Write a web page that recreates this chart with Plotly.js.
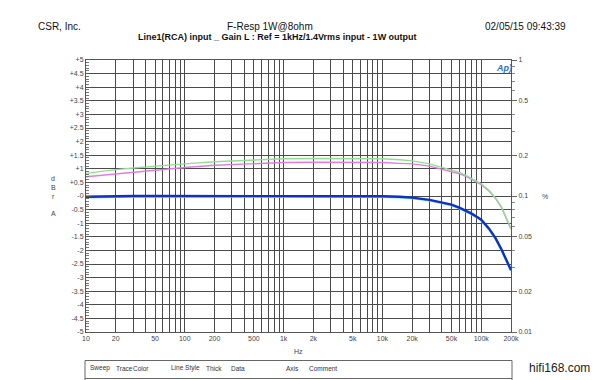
<!DOCTYPE html>
<html>
<head>
<meta charset="utf-8">
<script src="https://cdn.plot.ly/plotly-3.0.1.min.js"></script>
<style>html,body{margin:0;padding:0;background:#fff;}#chart{width:598px;height:380px;}</style>
</head>
<body>
<div id="chart"></div>
<script>
// Frequencies (Hz)
const freqs = [10, 15, 20, 30, 50, 100, 200, 500, 1000, 2000, 5000, 10000, 15000, 20000, 30000, 40000, 50000, 60000, 70000, 80000, 90000, 100000, 120000, 140000, 160000, 180000, 200000];
// Blue trace (dBrA)
const blueDb = [-0.03, -0.01, 0.0, 0.0, 0.0, 0.0, 0.0, 0.0, 0.0, 0.0, 0.0, -0.01, -0.03, -0.06, -0.14, -0.24, -0.32, -0.43, -0.54, -0.65, -0.76, -0.87, -1.2, -1.56, -1.96, -2.34, -2.72];
// Cyan trace (dBrA)
const cyanDb = [-0.05, -0.03, -0.02, -0.02, -0.02, -0.02, -0.02, -0.02, -0.02, -0.02, -0.02, -0.03, -0.05, -0.08, -0.16, -0.26, -0.34, -0.45, -0.56, -0.67, -0.78, -0.9, -1.23, -1.59, -1.99, -2.37, -2.75];
// Green trace
const greenDb = [0.83, 0.92, 0.97, 1.03, 1.10, 1.18, 1.26, 1.33, 1.37, 1.38, 1.38, 1.37, 1.33, 1.29, 1.18, 1.06, 0.97, 0.87, 0.76, 0.65, 0.55, 0.45, 0.2, -0.08, -0.4, -0.8, -1.19];
// Magenta trace
const magentaDb = [0.71, 0.77, 0.82, 0.88, 0.95, 1.05, 1.13, 1.20, 1.23, 1.24, 1.24, 1.23, 1.20, 1.18, 1.10, 0.99, 0.91, 0.82, 0.72, 0.61, 0.51, 0.42, 0.18, -0.1, -0.42, -0.82, -1.21];

// Axis ticks
const xGridVals = [];
for (let d = 10; d <= 100000; d *= 10) for (let m = 1; m <= 9; m++) xGridVals.push(m * d);
xGridVals.push(200000);
const xLabelMap = {10:'10',20:'20',50:'50',100:'100',200:'200',500:'500',1000:'1k',2000:'2k',5000:'5k',10000:'10k',20000:'20k',50000:'50k',100000:'100k',200000:'200k'};
const xTickText = xGridVals.map(v => xLabelMap[v] || '');
const yTickVals = [5,4.5,4,3.5,3,2.5,2,1.5,1,0.5,0,-0.5,-1,-1.5,-2,-2.5,-3,-3.5,-4,-4.5,-5];
const yTickText = ['+5','+4.5','+4','+3.5','+3','+2.5','+2','+1.5','+1','+0.5','-0','-0.5','-1','-1.5','-2','-2.5','-3','-3.5','-4','-4.5','-5'];
const y2TickVals = [0.01, 0.02, 0.05, 0.1, 0.2, 0.5, 1];
const y2TickText = ['0.01','0.02','0.05','0.1','0.2','0.5','1'];
const y2MinorVals = [0.03,0.04,0.06,0.07,0.08,0.09,0.3,0.4,0.6,0.7,0.8,0.9];
const legendHeaders = ['Sweep','Trace','Color','Line Style','Thick','Data','Axis','Comment'];
const legendHeaderX = [88, 114, 131, 169, 204, 229, 284, 307];

const L = 86, R = 511, T = 60, B = 332;
const px = x => (x - L) / (R - L);
const py = y => (B - y) / (B - T);

const traces = [
  {x: freqs, y: magentaDb, mode: 'lines', line: {color: '#e07be0', width: 1.4}, hoverinfo: 'skip'},
  {x: freqs, y: greenDb, mode: 'lines', line: {color: '#8fe08f', width: 1.4}, hoverinfo: 'skip'},
  {x: freqs, y: cyanDb, mode: 'lines', line: {color: '#6fdcff', width: 2.2}, hoverinfo: 'skip'},
  {x: freqs, y: blueDb, mode: 'lines', line: {color: '#1030c0', width: 2.4}, hoverinfo: 'skip'},
  {x: [], y: [], yaxis: 'y2', mode: 'lines', hoverinfo: 'skip'}
];

const tickFont = {family: 'Liberation Sans, Arial, sans-serif', size: 7, color: '#444'};
const annFont = {family: 'Liberation Sans, Arial, sans-serif', size: 10, color: '#111'};

const annotations = [
  {text: 'CSR, Inc.', x: px(36), y: py(26), xanchor: 'left'},
  {text: 'F-Resp 1W@8ohm', x: px(270), y: py(26), xanchor: 'center'},
  {text: '<b>Line1(RCA) input _ Gain L : Ref = 1kHz/1.4Vrms input - 1W output</b>', x: px(277), y: py(37), xanchor: 'center', font: {family: 'Liberation Sans, Arial, sans-serif', size: 9, color: '#111'}},
  {text: '02/05/15 09:43:39', x: px(568), y: py(26), xanchor: 'right'},
  {text: 'd', x: px(53), y: py(178), xanchor: 'center', font: tickFont},
  {text: 'B', x: px(53), y: py(187), xanchor: 'center', font: tickFont},
  {text: 'r', x: px(53), y: py(196), xanchor: 'center', font: tickFont},
  {text: 'A', x: px(53), y: py(213), xanchor: 'center', font: tickFont},
  {text: '%', x: px(545), y: py(196), xanchor: 'center', font: tickFont},
  {text: 'Hz', x: px(298), y: py(351), xanchor: 'center', font: tickFont},
  {text: '<i><b>Ap)</b></i>', x: px(504), y: py(68), xanchor: 'center', font: {family: 'Liberation Sans, Arial, sans-serif', size: 9, color: '#2f6fc0'}},
  {text: 'hifi168.com', x: px(527), y: py(368), xanchor: 'left', font: {family: 'Liberation Sans, Arial, sans-serif', size: 12, color: '#222'}}
].map(a => Object.assign({xref: 'paper', yref: 'paper', showarrow: false, yanchor: 'middle', font: annFont}, a));

legendHeaders.forEach((h, i) => {
  annotations.push({text: h, xref: 'paper', yref: 'paper', x: px(legendHeaderX[i]), y: py(368), xanchor: 'left', yanchor: 'middle', showarrow: false, font: {family: 'Liberation Sans, Arial, sans-serif', size: 6.5, color: '#333'}});
});

const shapes = [
  {type: 'line', xref: 'paper', yref: 'paper', x0: px(85), x1: px(512), y0: py(360.5), y1: py(360.5), line: {color: '#666', width: 1}},
  {type: 'line', xref: 'paper', yref: 'paper', x0: px(85), x1: px(85), y0: py(360.5), y1: py(385), line: {color: '#666', width: 1}},
  {type: 'line', xref: 'paper', yref: 'paper', x0: px(512), x1: px(512), y0: py(360.5), y1: py(385), line: {color: '#666', width: 1}},
  {type: 'line', xref: 'paper', yref: 'paper', x0: px(85), x1: px(512), y0: py(378.5), y1: py(378.5), line: {color: '#666', width: 1}}
];

const layout = {
  width: 598, height: 380,
  margin: {l: L, r: 598 - R, t: T, b: 380 - B, pad: 0},
  paper_bgcolor: '#fff', plot_bgcolor: '#fff',
  showlegend: false,
  xaxis: {
    type: 'log', range: [1, Math.log10(200000)],
    tickmode: 'array', tickvals: xGridVals, ticktext: xTickText,
    showgrid: true, gridcolor: '#4a4a4a', gridwidth: 1,
    ticks: '', tickfont: tickFont, tickangle: 0,
    showline: true, linecolor: '#555', linewidth: 1, mirror: true,
    zeroline: false, fixedrange: true
  },
  yaxis: {
    range: [-5, 5], tickmode: 'array', tickvals: yTickVals, ticktext: yTickText,
    showgrid: true, gridcolor: '#4a4a4a', gridwidth: 1,
    ticks: 'inside', ticklen: 5, tickcolor: '#555', tickfont: tickFont,
    minor: {dtick: 0.1, ticks: 'inside', ticklen: 2.5, tickcolor: '#777', showgrid: false},
    showline: true, linecolor: '#555', linewidth: 1, mirror: true,
    zeroline: false, fixedrange: true
  },
  yaxis2: {
    type: 'log', range: [-2, 0], overlaying: 'y', side: 'right', anchor: 'x',
    tickmode: 'array', tickvals: y2TickVals, ticktext: y2TickText,
    showgrid: false, ticks: 'outside', ticklen: 5, tickcolor: '#666', tickfont: tickFont,
    minor: {tickmode: 'array', tickvals: y2MinorVals, ticks: 'outside', ticklen: 2.5, tickcolor: '#888', showgrid: false},
    showline: false, zeroline: false, fixedrange: true
  },
  annotations: annotations,
  shapes: shapes
};

Plotly.newPlot('chart', traces, layout, {displayModeBar: false, staticPlot: true});
</script>
</body>
</html>
